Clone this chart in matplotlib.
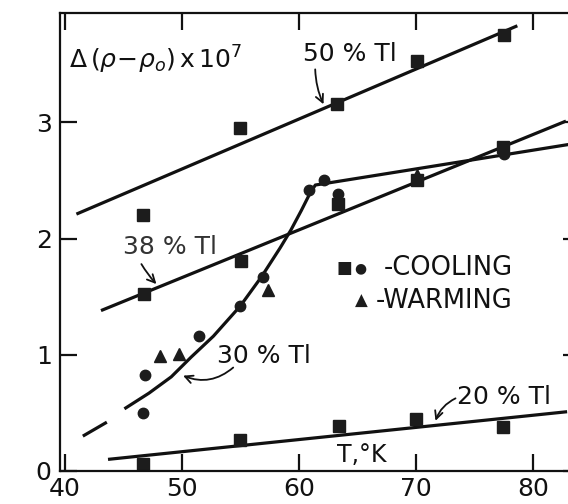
import matplotlib
matplotlib.use("Agg")
import matplotlib.pyplot as plt

# temperature (K) / resistivity change (x1e7)
t50 = [54.97, 63.24, 70.1, 77.5]
r50 = [2.95, 3.16, 3.53, 3.75]
t38 = [46.65, 46.75, 55.03, 63.3, 70.1, 77.46]
r38 = [2.20, 1.52, 1.81, 2.30, 2.50, 2.79]
t20 = [46.7, 54.97, 63.4, 70.0, 77.4]
r20 = [0.06, 0.27, 0.39, 0.45, 0.38]
t30_cool = [46.69, 46.9, 51.45, 55.0, 56.9, 60.85, 62.1, 63.3, 77.5]
r30_cool = [0.50, 0.83, 1.16, 1.42, 1.67, 2.42, 2.50, 2.38, 2.73]
t30_warm = [48.1, 49.8, 57.4, 70.1]
r30_warm = [0.99, 1.01, 1.56, 2.55]

# hand drawn fit lines
fit50_t, fit50_r = [41.0, 78.65], [2.21, 3.83]
fit38_t, fit38_r = [43.1, 82.8], [1.38, 3.01]
fit20_t, fit20_r = [43.7, 82.9], [0.10, 0.51]
fit30_dash_t, fit30_dash_r = [41.55, 43.6], [0.30, 0.42]
fit30_t = [45.1, 47.2, 49.1, 50.8, 52.7, 55.0, 56.8, 58.4, 59.3, 60.2, 60.9, 61.4, 83.1]
fit30_r = [0.535, 0.67, 0.81, 0.98, 1.16, 1.42, 1.67, 1.92, 2.07, 2.24, 2.38, 2.46, 2.81]

xticks = [40, 50, 60, 70, 80]
yticks = [0, 1, 2, 3]

ink = "#111111"
fs = 18

fig = plt.figure(figsize=(5.68, 5.04), dpi=100)
ax = fig.add_axes([60 / 568, 33 / 504, 520 / 568, 458 / 504])
ax.set_xlim(39.6, 84.0)
ax.set_ylim(0, 3.94)

lw = 2.3
for tt, rr in [(fit50_t, fit50_r), (fit38_t, fit38_r), (fit20_t, fit20_r),
               (fit30_dash_t, fit30_dash_r), (fit30_t, fit30_r)]:
    ax.plot(tt, rr, color=ink, lw=lw, solid_capstyle="butt")

ms_sq = 8.5
for tt, rr in [(t50, r50), (t38, r38), (t20, r20)]:
    ax.plot(tt, rr, "s", color="#1c1c1c", ms=ms_sq, ls="none")
ax.plot(t30_cool, r30_cool, "o", color="#1c1c1c", ms=7.5, ls="none")
ax.plot(t30_warm, r30_warm, "^", color="#1c1c1c", ms=8, ls="none")

# axes frame and ticks
for s in ax.spines.values():
    s.set_linewidth(1.6)
    s.set_color(ink)
ax.set_xticks(xticks)
ax.set_yticks(yticks)
ax.set_xticklabels([str(v) for v in xticks], fontsize=fs)
ax.set_yticklabels([str(v) for v in yticks], fontsize=fs)
ax.tick_params(direction="in", length=12, width=1.6, top=True, right=True,
               colors=ink)
ax.tick_params(axis="x", pad=4)
ax.tick_params(axis="y", pad=6)

# labels
ax.text(40.4, 3.54, r"$\Delta\,(\rho\!-\!\rho_{o})\,\mathrm{x}\,10^{7}$",
        fontsize=fs, ha="left", va="center", color=ink)
ax.text(60.36, 3.585, "50 % Tl", fontsize=fs, ha="left", va="center", color=ink)
ax.text(44.97, 1.926, "38 % Tl", fontsize=fs, ha="left", va="center", color="#333333")
ax.text(52.97, 0.99, "30 % Tl", fontsize=fs, ha="left", va="center", color=ink)
ax.text(73.52, 0.636, "20 % Tl", fontsize=fs, ha="left", va="center", color=ink)
ax.text(63.25, 0.137, "T,°K", fontsize=fs - 1, ha="left", va="center", color=ink)

arrow = dict(arrowstyle="->", color=ink, lw=1.3, shrinkA=0, shrinkB=0,
             mutation_scale=14)
ax.annotate("", xy=(62.1, 3.155), xytext=(61.39, 3.455),
            arrowprops=dict(arrow, connectionstyle="arc3,rad=0.1"))
ax.annotate("", xy=(47.83, 1.608), xytext=(46.55, 1.78),
            arrowprops=dict(arrow, connectionstyle="arc3,rad=0.05"))
ax.annotate("", xy=(50.11, 0.82), xytext=(54.39, 0.89),
            arrowprops=dict(arrow, connectionstyle="arc3,rad=-0.3"))
ax.annotate("", xy=(71.66, 0.432), xytext=(73.37, 0.625),
            arrowprops=dict(arrow, connectionstyle="arc3,rad=0.2"))

# key
ax.text(78.25, 1.745, "-COOLING", fontsize=18.5, ha="right", va="center", color=ink)
ax.text(78.25, 1.46, "-WARMING", fontsize=18.5, ha="right", va="center", color=ink)
ax.text(63.9, 1.745, "■", fontsize=12, ha="center", va="center", color="#1c1c1c")
ax.text(65.2, 1.745, "●", fontsize=10, ha="center", va="center", color="#1c1c1c")
ax.text(65.3, 1.46, "▲", fontsize=12, ha="center", va="center", color="#1c1c1c")

fig.savefig("out.png", dpi=100)
